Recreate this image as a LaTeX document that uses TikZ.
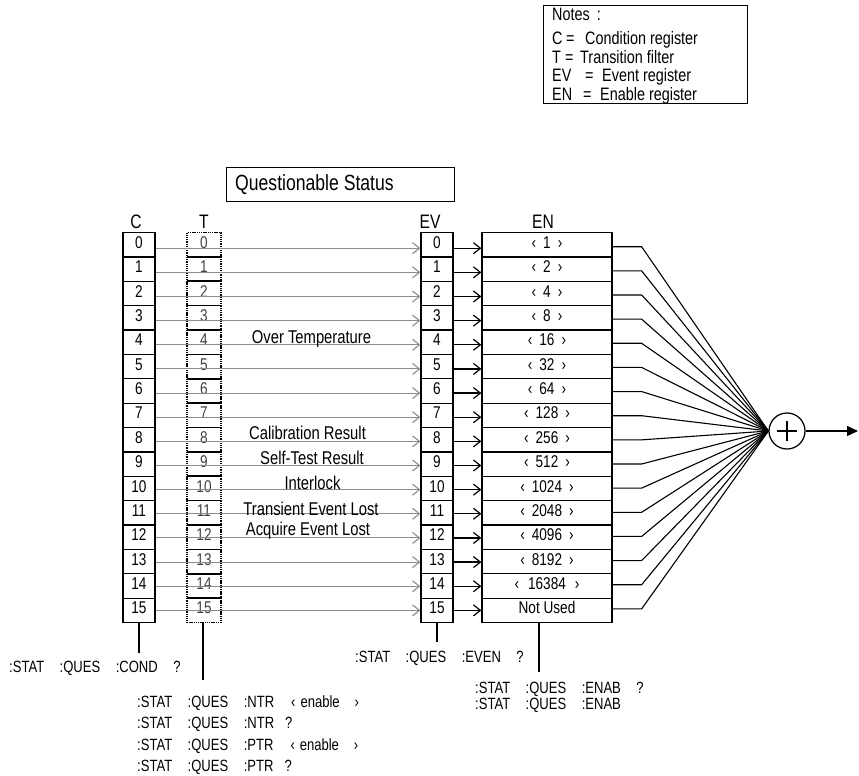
\documentclass[tikz,border=0pt]{standalone}
\usepackage{fontspec}
\setmainfont{Liberation Sans}[FakeStretch=0.8]
\usetikzlibrary{arrows.meta,calc}
\newcommand\fsz[1]{\fontsize{#1}{#1}\selectfont}
\newcommand\cmdgap{\hspace{15.5pt}}
\newcommand\enl[2][7pt]{‹\hspace{#1}#2\hspace{#1}›}
\begin{document}
\begin{tikzpicture}[x=1pt,y=-1pt,
  every node/.style={inner sep=0pt},
  regbox/.style={draw, line width=1.25pt, minimum height=24.375pt, text height=11pt, text depth=3.8pt, font=\fsz{17}},
  ccell/.style={regbox, minimum width=32pt},
  encell/.style={regbox, minimum width=130pt},
  tcell/.style={draw, line width=1.7pt, dash pattern=on 1.3pt off 0.9pt, minimum width=34pt, minimum height=24.375pt, text height=11pt, text depth=3.8pt, font=\fsz{17}, text=black!75},
  grayarrow/.style={draw=black!45, line width=1.1pt, -{Straight Barb[length=7pt,width=11pt]}},
  blackarrow/.style={draw=black, line width=1.2pt, -{Straight Barb[length=7pt,width=11pt]}},
  fan/.style={draw=black, line width=1.1pt},
  lbl/.style={font=\fsz{18.5}, anchor=base},
  cmd/.style={font=\fsz{16.3}, anchor=base west},
  note/.style={font=\fsz{18}, anchor=base west},
  hdr/.style={font=\fsz{19.5}, anchor=base},
  plain/.style={draw=black, line width=1.25pt}
]
\useasboundingbox (0,0) rectangle (859,776);

% Notes box
\node[draw, line width=1.4pt, minimum width=204pt, minimum height=98pt, anchor=north west] (notes) at (543,5) {};
\node[note] (n0) at (552,21) {Notes\hspace{7pt}:};
\node[note] (n1) at (552,45) {C\hspace{3.6pt}=\hspace{10.6pt}Condition register};
\node[note] (n2) at (552,63.3) {T\hspace{4.2pt}=\hspace{6.6pt}Transition filter};
\node[note] (n3) at (552,81.7) {EV\hspace{13.8pt}=\hspace{8.6pt}Event register};
\node[note] (n4) at (552,100) {EN\hspace{11pt}=\hspace{8.6pt}Enable register};

% Title box
\node[draw, line width=1.1pt, minimum width=228pt, minimum height=34pt, anchor=north west] (title) at (226,167) {};
\node[font=\fsz{22}, anchor=base west] (titletext) at (235,190) {Questionable Status};

% Column headers
\node[hdr] (hc) at (136,228) {C};
\node[hdr] (ht) at (204,228) {T};
\node[hdr] (hev) at (430,228) {EV};
\node[hdr] (hen) at (543,228) {EN};

% Summation node
\node[draw, circle, line width=1.25pt, minimum size=36pt] (sum) at (787,431) {};
\draw[plain] (sum.center) ++(-10,0) -- ++(20,0);
\draw[plain] (sum.center) ++(0,-10) -- ++(0,20);
\coordinate (out) at (858,431);
\draw[plain, -{Triangle[length=11pt,width=10pt]}] (sum.east) -- (out);

% Registers
\foreach \i/\lab in {0/\enl{1},1/\enl{2},2/\enl{4},3/\enl{8},4/\enl{16},5/\enl{32},6/\enl{64},7/\enl{128},8/\enl{256},9/\enl{512},10/\enl{1024},11/\enl{2048},12/\enl{4096},13/\enl{8192},14/\enl[9pt]{16384},15/Not Used}{
  \pgfmathsetmacro{\yy}{244.7+24.375*\i}
  \pgfmathsetmacro{\dy}{3.5-0.23*\i}
  \node[tcell] (t\i) at (204,\yy) {\i};
  \node[ccell] (c\i) at (139,\yy) {\i};
  \node[ccell] (ev\i) at (437,\yy) {\i};
  \node[encell] (en\i) at (547,\yy) {\lab};
  \draw[grayarrow] ([yshift=-\dy pt]c\i.east) -- ([yshift=-\dy pt]ev\i.west);
  \draw[blackarrow] ([yshift=-\dy pt]ev\i.east) -- ([yshift=-\dy pt]en\i.west);
  \draw[fan] ([yshift=-\dy pt+1.5pt]en\i.east) -- ++(29,0) -- (sum.west);
}

% Labels on the transition lines
\node[lbl] (l4) at (311.5,343) {Over Temperature};
\node[lbl] (l8) at (307.5,439) {Calibration Result};
\node[lbl] (l9) at (312,464) {Self-Test Result};
\node[lbl] (l10) at (312.5,489) {Interlock};
\node[lbl] (l11) at (311,515) {Transient Event Lost};
\node[lbl] (l12) at (308,535) {Acquire Event Lost};

% Command leaders
\coordinate (cend) at (139,653);
\draw[plain] (c15.south) -- (cend);
\coordinate (tend) at (203,680);
\draw[plain] (t15.south -| tend) -- (tend);
\coordinate (evend) at (437,642);
\draw[plain] (ev15.south) -- (evend);
\coordinate (enend) at (539,672);
\draw[plain] (en15.south -| enend) -- (enend);

% Command texts
\node[cmd] (qcond) at (9,672) {:STAT\cmdgap:QUES\cmdgap:COND\cmdgap?};
\node[cmd] (qntr1) at (137,707) {:STAT\cmdgap:QUES\cmdgap:NTR\hspace{17pt}‹\hspace{5pt}enable\hspace{15pt}›};
\node[cmd] (qntr2) at (137,728.5) {:STAT\cmdgap:QUES\cmdgap:NTR\hspace{11pt}?};
\node[cmd] (qptr1) at (137,750) {:STAT\cmdgap:QUES\cmdgap:PTR\hspace{17pt}‹\hspace{5pt}enable\hspace{15pt}›};
\node[cmd] (qptr2) at (137,771.5) {:STAT\cmdgap:QUES\cmdgap:PTR\hspace{11pt}?};
\node[cmd] (qeven) at (355,662) {:STAT\cmdgap:QUES\cmdgap:EVEN\cmdgap?};
\node[cmd] (qenab1) at (475,693) {:STAT\cmdgap:QUES\cmdgap:ENAB\cmdgap?};
\node[cmd] (qenab2) at (475,709) {:STAT\cmdgap:QUES\cmdgap:ENAB};
\end{tikzpicture}
\end{document}
